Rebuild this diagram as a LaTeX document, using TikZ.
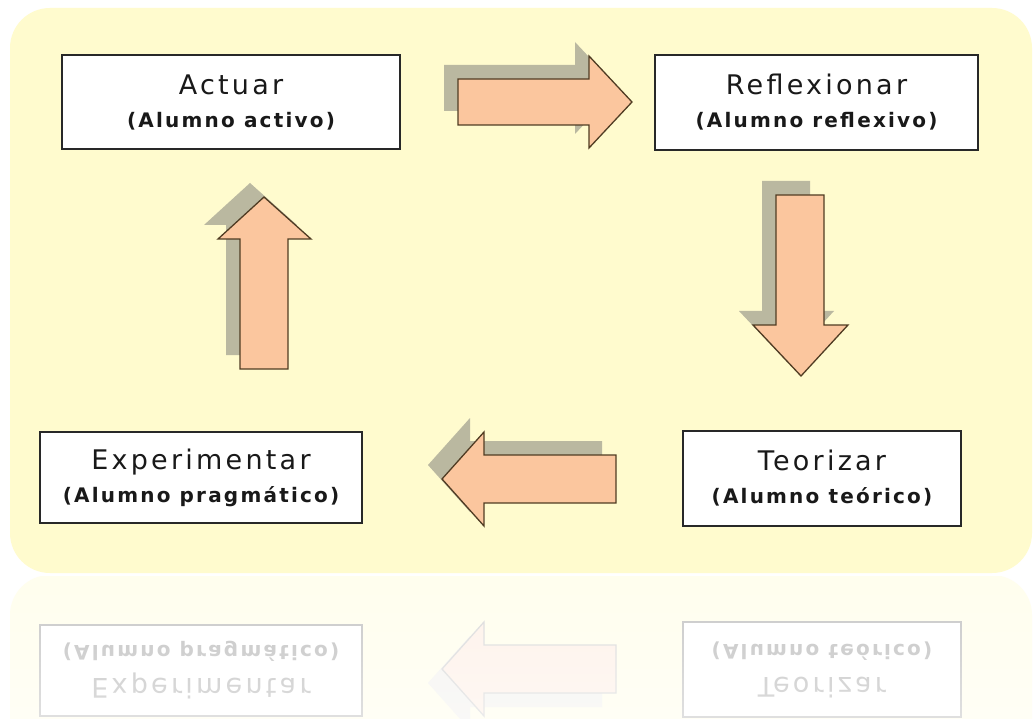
\documentclass[tikz,border=0pt]{standalone}
\usepackage{fontspec}
\usetikzlibrary{fadings}
\newfontfamily\titlef{DejaVu Sans}[LetterSpace=12]
\newfontfamily\subf{DejaVu Sans}[LetterSpace=11]
\definecolor{bgc}{RGB}{255,251,206}
\definecolor{boxline}{RGB}{40,40,40}
\definecolor{boxfill}{RGB}{255,255,255}
\definecolor{txt}{RGB}{25,25,25}
\definecolor{arrfill}{RGB}{251,198,158}
\definecolor{arrline}{RGB}{80,60,35}
\definecolor{shad}{RGB}{186,184,160}
\tikzset{
  stagebox/.style={draw=boxline, line width=1.3pt, fill=boxfill, align=center,
    inner sep=0pt, outer sep=0pt, anchor=north west, text=txt,
    font=\fontsize{20}{33}\selectfont},
  blockarrow/.style={draw=arrline, line width=1.3pt, fill=arrfill, line join=miter},
  arrshadow/.style={fill=shad, shift={(-14,-14)}},
}
\newcommand\boxtext[2]{{\titlef\fontsize{27}{32}\selectfont #1}\\{\subf\bfseries\fontsize{20}{32}\selectfont #2}}
\newcommand\rarrowpath{(458,79) -- (589,79) -- (589,56) -- (632,102) -- (589,148) -- (589,125) -- (458,125) -- cycle}
\newcommand\darrowpath{(776,195) -- (824,195) -- (824,325) -- (848,325) -- (801,376) -- (753,325) -- (776,325) -- cycle}
\newcommand\larrowpath{(616,455) -- (484,455) -- (484,432) -- (442,479) -- (484,526) -- (484,503) -- (616,503) -- cycle}
\newcommand\uarrowpath{(240,369) -- (240,239) -- (218,239) -- (264,197) -- (311,239) -- (288,239) -- (288,369) -- cycle}
\newcommand\diagramcontent[1]{%
  \fill[bgc, rounded corners=40pt] (10,8) rectangle (1032,573);
  \fill[arrshadow] \rarrowpath;
  \fill[arrshadow] \darrowpath;
  \fill[arrshadow] \larrowpath;
  \fill[arrshadow] \uarrowpath;
  \draw[blockarrow] \rarrowpath;
  \draw[blockarrow] \darrowpath;
  \draw[blockarrow] \larrowpath;
  \draw[blockarrow] \uarrowpath;
  \node[stagebox, minimum width=338pt, minimum height=94pt] (#1act) at (62,55) {\boxtext{Actuar}{(Alumno activo)}};
  \node[stagebox, minimum width=323pt, minimum height=95pt] (#1ref) at (655,55) {\boxtext{Reflexionar}{(Alumno reflexivo)}};
  \node[stagebox, minimum width=322pt, minimum height=91pt] (#1exp) at (40,432) {\boxtext{Experimentar}{(Alumno pragmático)}};
  \node[stagebox, minimum width=278pt, minimum height=95pt] (#1teo) at (683,431) {\boxtext{Teorizar}{(Alumno teórico)}};
}
\begin{document}
\begin{tikzpicture}[x=1pt,y=-1pt]
\useasboundingbox (0,0) rectangle (1036,719);
\fill[white] (0,0) rectangle (1036,719);
\diagramcontent{m}
\begin{scope}
  \clip (0,576) rectangle (1036,719);
  \colorlet{bgc}{bgc!35!white}
  \colorlet{boxline}{black!22}
  \colorlet{txt}{black!24}
  \colorlet{arrfill}{arrfill!22!white}
  \colorlet{arrline}{black!14}
  \colorlet{shad}{shad!15!white}
  \begin{scope}[shift={(0,1148)}, yscale=-1, transform shape]
    \diagramcontent{r}
  \end{scope}
  \fill[white, fill opacity=0.45, path fading=north] (0,576) rectangle (1036,719);
\end{scope}
\end{tikzpicture}
\end{document}
